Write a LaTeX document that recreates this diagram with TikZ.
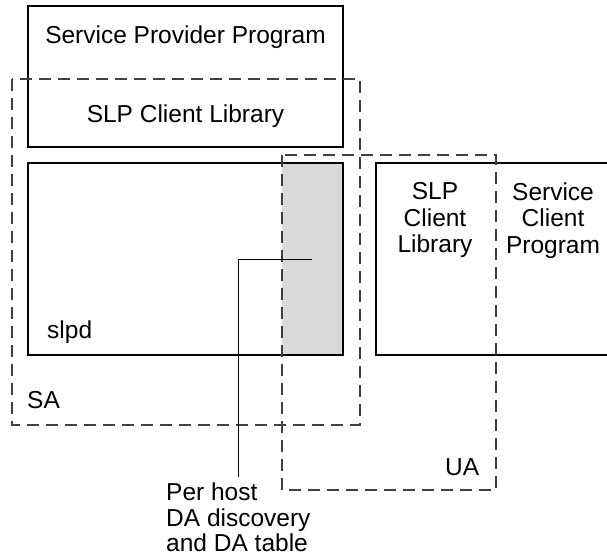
\documentclass[tikz,border=0pt]{standalone}
\usepackage{fontspec}
\setmainfont{Liberation Sans}
\tikzset{
	box/.style={line width=1.1pt},
	agent/.style={line width=1.3pt,black!75,dash pattern=on 12pt off 7pt},
	lbl/.style={inner sep=0pt,font=\fontsize{24.5}{26.5}\selectfont},
	leader/.style={line width=1pt,shorten >=6pt}
}
\begin{document}
\begin{tikzpicture}[x=1pt,y=-1pt]
	\useasboundingbox (0,0) rectangle (607,558);
	\fill[gray!30] (282,163) rectangle (343,355); % DA table
	\draw[box] (28,6) rectangle (343,147) (28,163) rectangle (343,355); % provider and slpd
	\draw[box] (607,163) -| (376,355) -- (607,355); % client program
	\draw[agent] (12,79) rectangle (360,425); % SA
	\draw[agent] (282,155) rectangle (496,490); % UA
	\node[lbl,anchor=base] (provider) at (185.5,43) {Service Provider Program};
	\node[lbl,anchor=base] (salib) at (185.5,122) {SLP Client Library};
	\node[lbl,anchor=base west] (slpd) at (47,338) {slpd};
	\node[lbl,anchor=base west] (sa) at (27,408) {SA};
	\node[lbl,anchor=base west] (ua) at (445,475) {UA};
	\node[lbl,anchor=north,align=center] (ualib) at (435,182.5) {SLP\\Client\\Library};
	\node[lbl,anchor=north,align=center] (client) at (553,182.5) {Service\\Client\\Program};
	\node[lbl,anchor=north west,align=left,font=\fontsize{24.5}{25.5}\selectfont] (danote) at (166,483) {Per host\\DA discovery\\and DA table};
	\coordinate (dapoint) at (312,259);
	\draw[leader] (dapoint) -| (danote.north); % pointer
\end{tikzpicture}
\end{document}
